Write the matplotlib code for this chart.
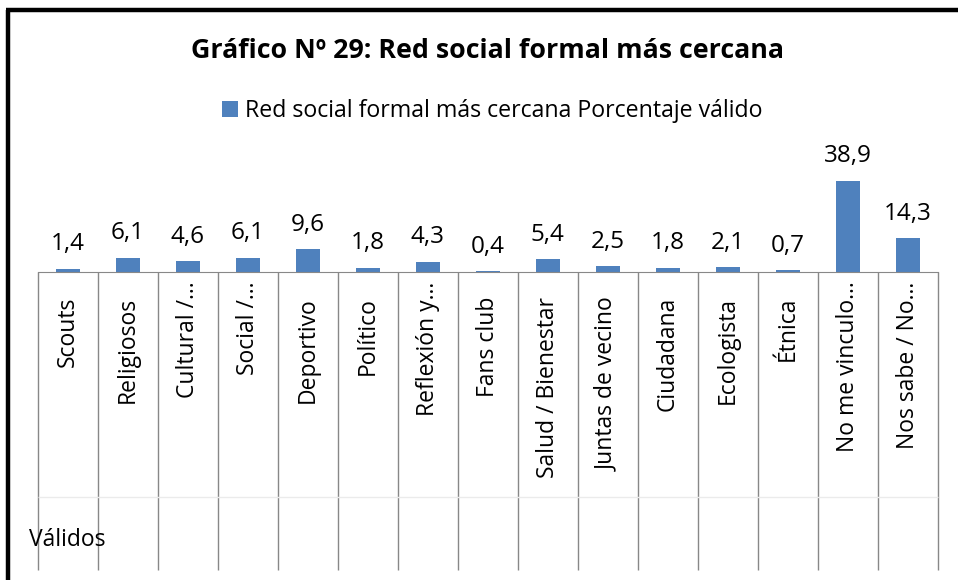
import matplotlib.pyplot as plt
from matplotlib.lines import Line2D

categorias = ["Scouts", "Religiosos", "Cultural /…", "Social /…", "Deportivo",
              "Político", "Reflexión y…", "Fans club", "Salud / Bienestar",
              "Juntas de vecino", "Ciudadana", "Ecologista", "Étnica",
              "No me vinculo…", "Nos sabe / No…"]
porcentajes = [1.4, 6.1, 4.6, 6.1, 9.6, 1.8, 4.3, 0.4, 5.4, 2.5, 1.8, 2.1, 0.7, 38.9, 14.3]
titulo = "Gráfico Nº 29: Red social formal más cercana"
serie = "Red social formal más cercana Porcentaje válido"
grupo = "Válidos"

W, H = 958, 580
plt.rcParams['font.family'] = ['Open Sans', 'DejaVu Sans']
fig = plt.figure(figsize=(W / 100, H / 100), dpi=100)

# marco negro del grafico (solo se ven los lados izquierdo y superior)
fig.add_artist(Line2D([8 / W, 8 / W], [0, 1 - 9.5 / H], transform=fig.transFigure,
                      color='black', linewidth=3.2, solid_capstyle='butt'))
fig.add_artist(Line2D([6.4 / W, 1], [1 - 9.5 / H, 1 - 9.5 / H], transform=fig.transFigure,
                      color='black', linewidth=3.2, solid_capstyle='butt'))

x0, x1 = 37.5, 937.5
y_base, y_top = 272, 154.5
ax = fig.add_axes([x0 / W, 1 - y_base / H, (x1 - x0) / W, (y_base - y_top) / H])
x = list(range(len(categorias)))
bars = ax.bar(x, porcentajes, width=0.4, color='#4F81BD', label=serie)
ax.bar_label(bars, labels=[f"{v:.1f}".replace('.', ',') for v in porcentajes],
             padding=9, fontsize=17.5)
ax.set_xlim(-0.5, len(categorias) - 0.5)
ax.set_ylim(0, 50)
ax.set_yticks([])
for s in ['top', 'right', 'left']:
    ax.spines[s].set_visible(False)
ax.spines['bottom'].set_color('#888888')
ax.set_xticks(x, categorias, rotation=90, va='top', fontsize=16.5)
ax.tick_params(axis='x', length=0)
for t, lab in zip(ax.xaxis.get_major_ticks(), categorias):
    t.set_pad(7 if lab.endswith('…') else 18)

h_ax = y_base - y_top
gx = [i - 0.5 for i in range(len(categorias) + 1)]
ax.vlines(gx, -(570 - y_base) / h_ax, 0, transform=ax.get_xaxis_transform(),
          colors='#888888', linewidth=1, clip_on=False)
ax.hlines(-(497 - y_base) / h_ax, gx[0], gx[-1], transform=ax.get_xaxis_transform(),
          colors='#ebebeb', linewidth=1, clip_on=False)

fig.text(29 / W, 1 - 540 / H, grupo, fontsize=16.5, va='center', ha='left')
fig.text(487 / W, 1 - 51 / H, titulo, fontsize=19.3, fontweight='bold',
         ha='center', va='center')
ax.legend(loc='center', bbox_to_anchor=(492 / W, 1 - 111 / H),
          bbox_transform=fig.transFigure, frameon=False, fontsize=16.7,
          handlelength=0.7, handleheight=0.7, handletextpad=0.3)

fig.savefig('out.png', dpi=100)
